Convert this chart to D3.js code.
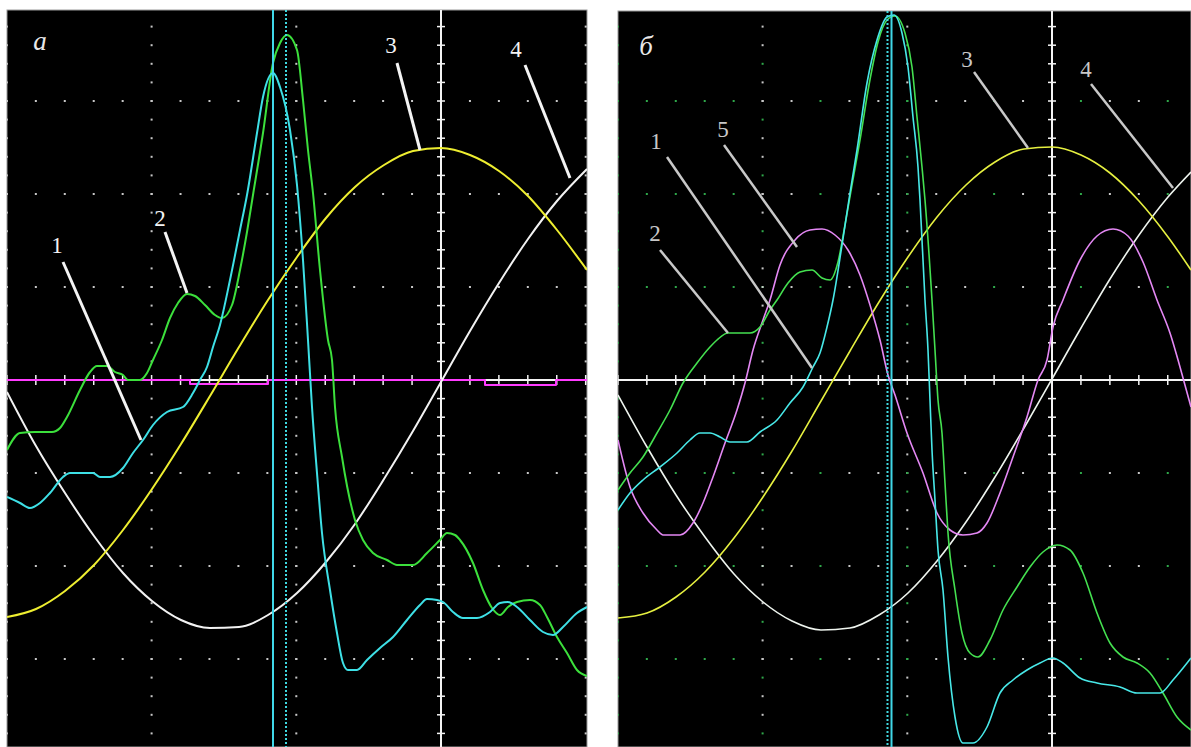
<!DOCTYPE html>
<meta charset="UTF-8">
<style>
  body { margin: 0; background: #fff; }
  svg { display: block; }
</style>
<svg width="1191" height="747"></svg>
<script src="https://cdn.jsdelivr.net/npm/d3@7/dist/d3.min.js"></script>
<script>

// x = samples from the centre (trigger) line, y = levels from the zero line
// 1 division = 144.7 samples horizontally, 93 levels vertically

// ---- panel a ----
var aYellow = [[-434,-237],[-405,-229],[-376,-211],[-347,-185],[-318,-150],[-289,-109],[-260,-64],[-231,-16],
  [-202,33],[-173,80],[-144,123],[-115,162],[-86,193],[-57,215],[-28,229],[0,232],[29,225],[58,209],[87,184],[116,150],[146,110]];

var aWhite = [[-434,-12],[-405,-66],[-376,-113],[-347,-156],[-318,-193],[-289,-221],[-260,-240],[-231,-248],
  [-202,-247],[-173,-235],[-144,-213],[-115,-182],[-86,-144],[-57,-99],[-28,-51],[0,-2],[29,49],[58,97],[87,141],[116,179],[146,211]];

var aGreen = [[-434,-70],[-421,-53],[-406,-52],[-389,-52],[-381,-48],[-374,-37],[-361,-10],[-351,8],[-344,14],[-334,14],
  [-326,8],[-318,5],[-313,0],[-301,0],[-294,7],[-288,20],[-279,40],[-271,62],[-263,77],[-254,86],[-246,84],[-236,75],
  [-226,65],[-219,62],[-209,75],[-201,110],[-194,148],[-188,185],[-178,247],[-168,317],[-161,337],[-154,345],[-144,330],
  [-138,280],[-133,230],[-128,187],[-121,110],[-113,40],[-109,20],[-106,-27],[-99,-77],[-86,-140],[-78,-160],[-68,-173],
  [-54,-180],[-44,-185],[-28,-185],[-14,-173],[-1,-160],[6,-153],[14,-155],[19,-160],[32,-183],[42,-210],[51,-228],
  [59,-235],[67,-227],[76,-222],[89,-220],[99,-225],[106,-237],[116,-257],[126,-273],[136,-290],[146,-296]];

var aCyan = [[-434,-117],[-421,-123],[-411,-128],[-401,-123],[-391,-113],[-378,-97],[-371,-93],[-348,-93],[-341,-97],
  [-331,-97],[-318,-88],[-308,-73],[-298,-60],[-288,-45],[-274,-32],[-258,-27],[-248,-13],[-241,0],[-234,13],[-228,33],
  [-221,55],[-211,100],[-201,150],[-194,185],[-184,247],[-178,283],[-168,307],[-161,293],[-151,250],[-144,195],
  [-138,120],[-133,40],[-129,-27],[-124,-93],[-119,-153],[-111,-210],[-104,-253],[-98,-283],[-93,-290],[-84,-290],
  [-74,-280],[-61,-268],[-48,-257],[-34,-240],[-21,-225],[-14,-219],[-4,-220],[2,-222],[12,-232],[22,-238],[36,-238],
  [49,-232],[59,-223],[67,-222],[76,-227],[89,-240],[102,-252],[112,-255],[122,-247],[136,-233],[146,-227]];

var aMagenta = [[-434,0],[-251,0],[-251,-4],[-173,-4],[-173,0],[44,0],[44,-5],[115,-5],[115,0],[146,0]];

var aCursors = [-168, -155];          // solid, dotted
var aNotes = [                          // label, text x, text y, line from, line to
  ["1", -384, 127, [-378,118], [-300,-60]],
  ["2", -281, 154, [-276,148], [-254,87]],
  ["3", -50, 327, [-44,317], [-21,230]],
  ["4", 75, 323, [84,315], [129,202]]
];

// ---- panel б ----
var bYellow = [[-434,-238],[-405,-233],[-376,-217],[-347,-192],[-318,-158],[-289,-117],[-260,-71],[-231,-21],
  [-202,29],[-173,78],[-144,123],[-115,163],[-86,195],[-57,218],[-28,231],[0,233],[29,225],[58,207],[87,179],[116,143],[139,110]];

var bWhite = [[-434,-15],[-405,-67],[-376,-115],[-347,-157],[-318,-194],[-289,-222],[-260,-241],[-231,-250],
  [-202,-248],[-173,-235],[-144,-213],[-115,-181],[-86,-142],[-57,-97],[-28,-48],[0,1],[29,52],[58,101],[87,145],[116,183],[139,208]];

var bMagenta = [[-434,-60],[-422,-107],[-409,-133],[-395,-150],[-389,-155],[-372,-155],[-359,-143],[-349,-123],
  [-339,-97],[-327,-63],[-315,-30],[-307,-3],[-299,30],[-289,60],[-282,80],[-272,115],[-257,140],[-242,150],[-230,151],
  [-217,145],[-204,130],[-192,105],[-182,75],[-172,40],[-164,5],[-157,-15],[-145,-53],[-129,-93],[-115,-133],[-102,-150],
  [-89,-155],[-75,-153],[-65,-143],[-52,-113],[-39,-77],[-25,-37],[-14,0],[-5,20],[1,53],[11,80],[28,120],[45,144],
  [61,151],[76,144],[91,118],[105,80],[118,47],[128,13],[139,-27]];

var bGreen = [[-434,-110],[-422,-93],[-409,-77],[-395,-53],[-382,-30],[-369,-3],[-355,17],[-342,33],[-335,40],
  [-324,47],[-302,47],[-292,53],[-282,70],[-275,80],[-264,97],[-252,108],[-240,110],[-230,102],[-222,100],[-214,118],
  [-207,155],[-200,195],[-192,240],[-183,295],[-174,338],[-165,360],[-157,364],[-147,347],[-140,313],[-135,263],
  [-130,213],[-127,180],[-120,80],[-117,30],[-114,-20],[-110,-53],[-107,-103],[-104,-153],[-97,-210],[-90,-253],
  [-82,-273],[-74,-277],[-62,-260],[-49,-230],[-35,-207],[-22,-187],[-9,-172],[5,-165],[18,-170],[31,-193],[45,-233],
  [58,-263],[71,-277],[85,-283],[98,-293],[111,-313],[125,-337],[139,-350]];

var bCyan = [[-434,-130],[-422,-113],[-409,-100],[-392,-87],[-375,-73],[-362,-60],[-352,-53],[-342,-53],[-332,-57],
  [-322,-62],[-305,-62],[-292,-52],[-275,-40],[-262,-23],[-249,-7],[-239,13],[-232,27],[-225,53],[-219,80],[-210,135],
  [-202,187],[-195,230],[-185,297],[-175,340],[-165,363],[-158,365],[-150,347],[-144,313],[-139,263],[-134,213],
  [-132,180],[-127,80],[-124,30],[-122,-20],[-120,-70],[-117,-120],[-114,-170],[-109,-210],[-104,-277],[-97,-337],
  [-89,-363],[-79,-363],[-65,-347],[-52,-313],[-39,-300],[-25,-290],[-12,-283],[1,-278],[11,-283],[28,-298],[45,-303],
  [68,-307],[85,-313],[108,-313],[121,-300],[139,-278]];

var bCursors = [-160.5, -164.5];
var bNotes = [
  ["1", -396, 231, [-385,223], [-240,12]],
  ["5", -329, 243, [-328,235], [-255,133]],
  ["2", -397, 139, [-392,130], [-324,47]],
  ["3", -85, 313, [-78,308], [-24,232]],
  ["4", 34, 303, [39,296], [121,192]]
];

var divX = 144.7, divY = 93;
var svg = d3.select("svg");

var panels = [
  { id: "a", title: "a", titleAt: [-401, 330], xDomain: [-434, 146], xRange: [7, 587], top: 10,
    traces: [[aMagenta, "#ff3cff", true], [aWhite, "#f2f2f2"], [aYellow, "#eeee30"], [aGreen, "#3ce03c"], [aCyan, "#3ee0e6"]],
    cursors: aCursors, notes: aNotes, noteColor: "#f4f4f4", noteWidth: 3, lw: 2, green: false },
  { id: "b", title: "б", titleAt: [-406, 325], xDomain: [-434, 139], xRange: [618, 1191], top: 11,
    traces: [[bWhite, "#eef4ee"], [bYellow, "#e6f040"], [bMagenta, "#e488f4"], [bGreen, "#44e050"], [bCyan, "#48e8e8"]],
    cursors: bCursors, notes: bNotes, noteColor: "#c8c8c8", noteWidth: 2.5, lw: 1.6, green: true }
];

panels.forEach(function(p) {
  var x = d3.scaleLinear().domain(p.xDomain).range(p.xRange);
  var y = d3.scaleLinear().domain([-367, 372]).range([747, 8]);
  var g = svg.append("g");

  g.append("clipPath").attr("id", "clip-" + p.id)
    .append("rect")
    .attr("x", x(p.xDomain[0])).attr("y", p.top)
    .attr("width", x(p.xDomain[1]) - x(p.xDomain[0])).attr("height", 747 - p.top);

  g.append("rect")
    .attr("x", x(p.xDomain[0])).attr("y", p.top)
    .attr("width", x(p.xDomain[1]) - x(p.xDomain[0])).attr("height", 747 - p.top)
    .attr("fill", "#000").attr("stroke", "#9a9a9a").attr("stroke-width", 1);

  var inner = g.append("g").attr("clip-path", "url(#clip-" + p.id + ")");

  // graticule dots
  var majorX = d3.range(-3, 2).map(function(k) { return k * divX; }).filter(function(v) { return v !== 0; });
  var majorY = d3.range(-4, 5).map(function(k) { return k * divY; }).filter(function(v) { return v !== 0; });
  var minorX = d3.range(-15, 6).map(function(k) { return k * divX / 5; });
  var minorY = d3.range(-20, 21).map(function(k) { return k * divY / 5; });
  var dots = [];
  majorX.forEach(function(mx) { minorY.forEach(function(my) { dots.push([mx, my]); }); });
  majorY.forEach(function(my) { minorX.forEach(function(mx) { dots.push([mx, my]); }); });
  inner.selectAll(".dot").data(dots).enter().append("rect")
    .attr("x", function(d) { return x(d[0]) - 1; })
    .attr("y", function(d) { return y(d[1]) - 1; })
    .attr("width", 2).attr("height", 2)
    .attr("fill", function(d, i) { return p.green && (i % 3 === 0 || d[0] < -300) ? "#2fa84a" : "#c8c8c8"; });

  // centre axes with ticks
  inner.append("line")
    .attr("x1", x(p.xDomain[0])).attr("x2", x(p.xDomain[1]))
    .attr("y1", y(0)).attr("y2", y(0))
    .attr("stroke", "#f4f4f4").attr("stroke-width", 2);
  inner.append("line")
    .attr("x1", x(0)).attr("x2", x(0))
    .attr("y1", p.top).attr("y2", 747)
    .attr("stroke", "#f4f4f4").attr("stroke-width", 2);
  inner.selectAll(".tx").data(minorX).enter().append("line")
    .attr("x1", function(d) { return x(d); }).attr("x2", function(d) { return x(d); })
    .attr("y1", y(0) - 5).attr("y2", y(0) + 5)
    .attr("stroke", "#f4f4f4").attr("stroke-width", 1.5);
  inner.selectAll(".ty").data(minorY).enter().append("line")
    .attr("x1", x(0) - 4).attr("x2", x(0) + 4)
    .attr("y1", function(d) { return y(d); }).attr("y2", function(d) { return y(d); })
    .attr("stroke", "#f4f4f4").attr("stroke-width", 1.5);

  // traces
  p.traces.forEach(function(t) {
    var line = d3.line()
      .x(function(d) { return x(d[0]); })
      .y(function(d) { return y(d[1]); })
      .curve(t[2] ? d3.curveLinear : d3.curveMonotoneX);
    inner.append("path")
      .datum(t[0])
      .attr("fill", "none")
      .attr("stroke", t[1])
      .attr("stroke-width", p.lw)
      .attr("stroke-linejoin", "round")
      .attr("d", line);
  });

  // cursors
  inner.append("line")
    .attr("x1", x(p.cursors[0])).attr("x2", x(p.cursors[0]))
    .attr("y1", p.top).attr("y2", 747)
    .attr("stroke", "#40d8e8").attr("stroke-width", 2);
  inner.append("line")
    .attr("x1", x(p.cursors[1])).attr("x2", x(p.cursors[1]))
    .attr("y1", p.top).attr("y2", 747)
    .attr("stroke", "#40d8e0").attr("stroke-width", 2)
    .attr("stroke-dasharray", "2,2");

  // leader lines and numbers
  p.notes.forEach(function(n) {
    inner.append("line")
      .attr("x1", x(n[3][0])).attr("y1", y(n[3][1]))
      .attr("x2", x(n[4][0])).attr("y2", y(n[4][1]))
      .attr("stroke", p.noteColor).attr("stroke-width", p.noteWidth);
    inner.append("text")
      .attr("x", x(n[1])).attr("y", y(n[2]))
      .attr("text-anchor", "middle")
      .attr("fill", p.noteColor)
      .style("font-family", "'Liberation Serif', 'DejaVu Serif', serif")
      .style("font-size", "23px")
      .text(n[0]);
  });

  inner.append("text")
    .attr("x", x(p.titleAt[0])).attr("y", y(p.titleAt[1]))
    .attr("text-anchor", "middle")
    .attr("fill", "#e8e8e8")
    .style("font-family", "'Liberation Serif', 'DejaVu Serif', serif")
    .style("font-style", "italic")
    .style("font-size", "27px")
    .text(p.title);
});

</script>
